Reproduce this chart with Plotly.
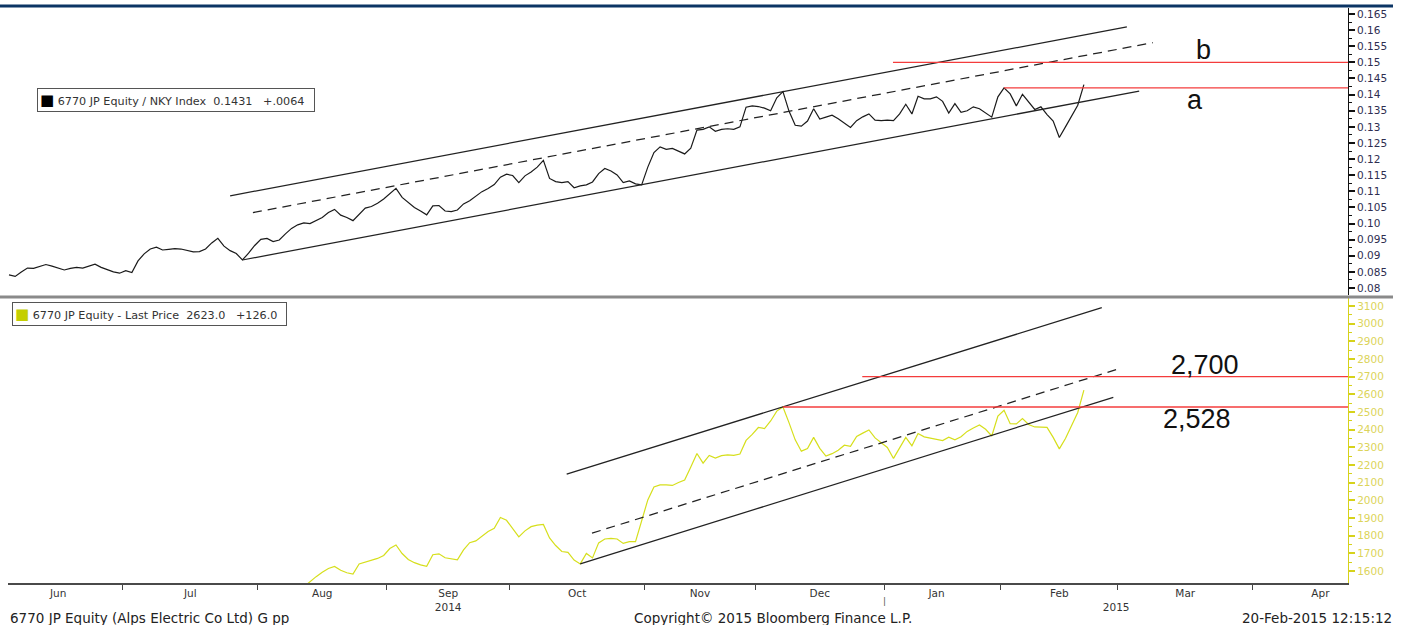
import plotly.graph_objects as go
import pandas as pd

# ---------------- data ----------------
HOLIDAYS = ["2014-07-21", "2014-09-15", "2014-09-23", "2014-10-13", "2014-11-03",
            "2014-11-24", "2014-12-23", "2014-12-31", "2015-01-01", "2015-01-02",
            "2015-01-12", "2015-02-11"]
FIRST_DAY = "2014-06-04"
LAST_DAY = "2015-02-20"

# 6770 JP Equity / NKY Index ratio, one value per trading day
ratio_values = [
    0.0841, 0.0836, 0.0850, 0.0862, 0.0861, 0.0868, 0.0873, 0.0868, 0.0861, 0.0856,
    0.0861, 0.0864, 0.0862, 0.0868, 0.0874, 0.0864, 0.0856, 0.0850, 0.0846, 0.0854,
    0.0848, 0.0884, 0.0906, 0.0921, 0.0927, 0.0918, 0.0920, 0.0922, 0.0921, 0.0916,
    0.0912, 0.0913, 0.0921, 0.0940, 0.0954, 0.0930, 0.0916, 0.0907, 0.0887, 0.0908,
    0.0932, 0.0951, 0.0954, 0.0944, 0.0949, 0.0968, 0.0985, 0.0996, 0.1002, 0.1000,
    0.1009, 0.1019, 0.1034, 0.1044, 0.1026, 0.1019, 0.1009, 0.1030, 0.1048, 0.1053,
    0.1063, 0.1076, 0.1094, 0.1109, 0.1081, 0.1064, 0.1050, 0.1039, 0.1027, 0.1055,
    0.1056, 0.1039, 0.1037, 0.1042, 0.1061, 0.1071, 0.1084, 0.1099, 0.1109, 0.1121,
    0.1144, 0.1153, 0.1149, 0.1127, 0.1148, 0.1160, 0.1175, 0.1196, 0.1140, 0.1130,
    0.1127, 0.1130, 0.1111, 0.1117, 0.1120, 0.1129, 0.1155, 0.1171, 0.1163, 0.1151,
    0.1127, 0.1132, 0.1123, 0.1120, 0.1175, 0.1220, 0.1238, 0.1230, 0.1233, 0.1224,
    0.1216, 0.1234, 0.1290, 0.1292, 0.1300, 0.1286, 0.1292, 0.1294, 0.1292, 0.1300,
    0.1361, 0.1365, 0.1363, 0.1358, 0.1350, 0.1390, 0.1409, 0.1348, 0.1305, 0.1302,
    0.1318, 0.1356, 0.1324, 0.1330, 0.1336, 0.1325, 0.1311, 0.1298, 0.1319, 0.1331,
    0.1340, 0.1321, 0.1319, 0.1321, 0.1319, 0.1340, 0.1370, 0.1340, 0.1395, 0.1387,
    0.1387, 0.1393, 0.1379, 0.1343, 0.1372, 0.1345, 0.1350, 0.1362, 0.1356, 0.1342,
    0.1330, 0.1393, 0.1421, 0.1402, 0.1365, 0.1401, 0.1377, 0.1354, 0.1362, 0.1338,
    0.1318, 0.1267, 0.1300, 0.1335, 0.1367, 0.1431,
]

# 6770 JP Equity last price, starting at trading day index PRICE_START
PRICE_START = 48
price_values = [
    1510, 1540, 1568, 1593, 1614, 1626, 1604, 1590, 1582, 1640,
    1651, 1660, 1671, 1688, 1727, 1747, 1699, 1665, 1647, 1635,
    1626, 1692, 1697, 1675, 1667, 1663, 1719, 1760, 1770, 1797,
    1824, 1841, 1903, 1887, 1838, 1793, 1827, 1851, 1859, 1863,
    1787, 1744, 1710, 1705, 1662, 1640, 1699, 1674, 1759, 1781,
    1785, 1781, 1756, 1766, 1766, 1877, 2002, 2076, 2087, 2087,
    2084, 2101, 2115, 2189, 2265, 2210, 2254, 2239, 2253, 2257,
    2254, 2262, 2339, 2373, 2412, 2406, 2449, 2505, 2528, 2438,
    2342, 2278, 2293, 2356, 2294, 2250, 2264, 2283, 2312, 2305,
    2361, 2380, 2398, 2353, 2325, 2299, 2237, 2294, 2356, 2308,
    2378, 2359, 2353, 2346, 2338, 2357, 2342, 2360, 2390, 2409,
    2426, 2402, 2364, 2477, 2509, 2433, 2432, 2462, 2429, 2415,
    2413, 2413, 2356, 2291, 2350, 2425, 2497, 2623,
]

# trend channel lines (start, end)
top_upper_x = ["2014-07-25", "2015-03-03"]
top_upper_y = [0.1086, 0.1610]
top_lower_x = ["2014-07-29", "2015-03-05"]
top_lower_y = [0.0887, 0.1411]
top_mid_x = ["2014-07-30 17:00", "2015-03-09 05:00"]
top_mid_y = [0.1034, 0.1561]

bot_upper_x = ["2014-10-14 19:00", "2015-02-24 22:00"]
bot_upper_y = [2148, 3090]
bot_lower_x = ["2014-10-17", "2015-02-26 19:00"]
bot_lower_y = [1640, 2583]
bot_mid_x = ["2014-10-20 22:00", "2015-02-27 22:00"]
bot_mid_y = [1814, 2747]

# horizontal levels
level_b, level_b_start = 0.15, "2015-01-05 22:00"
level_a, level_a_start = 0.1421, "2015-02-02"
level_2700, level_2700_start = 2700, "2014-12-24 22:00"
level_2528, level_2528_start = 2528, "2014-12-05"

# axis labels
TOP_TICKS = [0.08, 0.085, 0.09, 0.095, 0.10, 0.105, 0.11, 0.115, 0.12, 0.125,
             0.13, 0.135, 0.14, 0.145, 0.15, 0.155, 0.16, 0.165]
TOP_TICKTEXT = ["0.08", "0.085", "0.09", "0.095", "0.10", "0.105", "0.11", "0.115",
                "0.12", "0.125", "0.13", "0.135", "0.14", "0.145", "0.15", "0.155",
                "0.16", "0.165"]
BOT_TICKS = [1600, 1700, 1800, 1900, 2000, 2100, 2200, 2300, 2400, 2500, 2600,
             2700, 2800, 2900, 3000, 3100]
BOT_TICKTEXT = [str(v) for v in BOT_TICKS]

MONTH_BOUNDS = ["2014-06-30 12:00", "2014-07-31 12:00", "2014-08-29 12:00",
                "2014-09-30 12:00", "2014-10-31 12:00", "2014-11-28 12:00",
                "2014-12-30 12:00", "2015-01-30 12:00", "2015-02-27 12:00",
                "2015-03-31 12:00"]
MONTH_MID = ["2014-06-16", "2014-07-15 12:00", "2014-08-15", "2014-09-12 12:00",
             "2014-10-16 12:00", "2014-11-14 12:00", "2014-12-15", "2015-01-16",
             "2015-02-16", "2015-03-16 12:00", "2015-04-15 12:00"]
MONTH_LABELS = ["Jun", "Jul", "Aug", "Sep<br>2014", "Oct", "Nov", "Dec", "Jan", "Feb",
                "Mar", "Apr"]
YEAR2_MID = "2015-02-27 06:00"
YEAR2_LABEL = "<br>2015"
YEAR_BREAK = "2014-12-30 12:00"

X_RANGE = ["2014-06-03 20:00", "2015-04-22"]
TOP_RANGE = [0.07784, 0.16686]
BOT_RANGE = [1532, 3145]

# ---------------- figure ----------------
dates = pd.bdate_range(FIRST_DAY, LAST_DAY, freq="C", holidays=HOLIDAYS)
price_dates = dates[PRICE_START:PRICE_START + len(price_values)]

BLACK = "#1a1a1a"
YELLOW = "#d6df1c"
RED = "#f43c3c"
FONT = "DejaVu Sans"
DASH = "9px,6px"

fig = go.Figure()
# top panel
fig.add_trace(go.Scatter(x=dates, y=ratio_values, mode="lines",
                         line=dict(color=BLACK, width=1.2), xaxis="x2", yaxis="y"))
for xs, ys, dash in [(top_upper_x, top_upper_y, "solid"), (top_lower_x, top_lower_y, "solid"),
                     (top_mid_x, top_mid_y, DASH)]:
    fig.add_trace(go.Scatter(x=xs, y=ys, mode="lines",
                             line=dict(color="#222222", width=1.25, dash=dash),
                             xaxis="x2", yaxis="y"))
for lvl, st in [(level_b, level_b_start), (level_a, level_a_start)]:
    fig.add_trace(go.Scatter(x=[st, X_RANGE[1]], y=[lvl, lvl], mode="lines",
                             line=dict(color=RED, width=1.3), xaxis="x2", yaxis="y"))
# bottom panel
fig.add_trace(go.Scatter(x=price_dates, y=price_values, mode="lines",
                         line=dict(color=YELLOW, width=1.2), xaxis="x", yaxis="y2"))
for xs, ys, dash in [(bot_upper_x, bot_upper_y, "solid"), (bot_lower_x, bot_lower_y, "solid"),
                     (bot_mid_x, bot_mid_y, DASH)]:
    fig.add_trace(go.Scatter(x=xs, y=ys, mode="lines",
                             line=dict(color="#222222", width=1.25, dash=dash),
                             xaxis="x", yaxis="y2"))
for lvl, st in [(level_2700, level_2700_start), (level_2528, level_2528_start)]:
    fig.add_trace(go.Scatter(x=[st, X_RANGE[1]], y=[lvl, lvl], mode="lines",
                             line=dict(color=RED, width=1.3), xaxis="x", yaxis="y2"))

rangebreaks = [dict(bounds=["sat", "mon"]), dict(values=HOLIDAYS)]
top_minor = [t + 0.0025 for t in TOP_TICKS[:-1]]
bot_minor = [t + 50 for t in BOT_TICKS[:-1]]

fig.update_layout(
    width=1408, height=625,
    margin=dict(l=8, r=60, t=8, b=42),
    paper_bgcolor="white", plot_bgcolor="white",
    showlegend=False,
    font=dict(family=FONT, size=10, color="#333333"),
    xaxis=dict(type="date", domain=[0, 1], anchor="y2", range=X_RANGE,
               rangebreaks=rangebreaks, tickmode="array",
               tickvals=MONTH_MID + [YEAR2_MID], ticktext=MONTH_LABELS + [YEAR2_LABEL],
               tickangle=0, ticks="", showticklabels=True,
               minor=dict(tickmode="array", tickvals=MONTH_BOUNDS, ticks="outside",
                          ticklen=5, tickwidth=1, tickcolor="#444444", showgrid=False),
               tickfont=dict(family=FONT, size=10.5, color="#333333"),
               showline=True, linecolor="#4a4a4a", linewidth=1.5,
               showgrid=False, zeroline=False),
    xaxis2=dict(type="date", matches="x", anchor="y", visible=False,
                rangebreaks=rangebreaks, range=X_RANGE, showgrid=False),
    yaxis=dict(domain=[0.50087, 1], anchor="x2", side="right", range=TOP_RANGE,
               tickmode="array", tickvals=TOP_TICKS, ticktext=TOP_TICKTEXT,
               ticks="outside", ticklen=6, tickwidth=2, tickcolor="#111111",
               showline=True, linecolor="#111111", linewidth=1,
               minor=dict(tickmode="array", tickvals=top_minor, ticks="outside",
                          ticklen=3, tickwidth=1, tickcolor="#111111"),
               showgrid=False, zeroline=False,
               tickfont=dict(family=FONT, size=10.5, color="#2e2e50")),
    yaxis2=dict(domain=[0, 0.4957], anchor="x", side="right", range=BOT_RANGE,
                tickmode="array", tickvals=BOT_TICKS, ticktext=BOT_TICKTEXT,
                ticks="outside", ticklen=6, tickwidth=2, tickcolor="#d6d21a",
                showline=True, linecolor="#d6d21a", linewidth=1.2,
                minor=dict(tickmode="array", tickvals=bot_minor, ticks="outside",
                           ticklen=3, tickwidth=1, tickcolor="#d6d21a"),
                showgrid=False, zeroline=False,
                tickfont=dict(family=FONT, size=10.5, color="#dcd45a")),
)

def px(x):
    return (x - 8) / 1340

def py(y):
    return (583 - y) / 575

shapes = [
    dict(type="line", xref="paper", yref="paper", x0=px(0), x1=px(1393),
         y0=py(6), y1=py(6), line=dict(color="#0b3564", width=3)),
    dict(type="line", xref="paper", yref="paper", x0=px(0), x1=px(1393),
         y0=py(297), y1=py(297), line=dict(color="#8a8a8a", width=3)),
]
fig.update_layout(shapes=shapes)

NB = "\u00a0"
BIG = dict(family="Liberation Sans", size=27, color="#111111")
LEG_FONT = dict(family=FONT, size=11.2, color="#333333")
annotations = [
    dict(text="<span style='color:#000000;font-size:15px'>■</span> 6770 JP Equity / NKY Index"
              + NB * 2 + "0.1431" + NB * 3 + "+.0064",
         xref="paper", yref="paper", x=px(37), y=py(100), xanchor="left", yanchor="middle",
         showarrow=False, align="left", width=272, height=18, borderpad=2,
         bordercolor="#555555", borderwidth=1, bgcolor="white", font=LEG_FONT),
    dict(text="<span style='color:#c4cf00;font-size:15px'>■</span> 6770 JP Equity - Last Price"
              + NB * 2 + "2623.0" + NB * 3 + "+126.0",
         xref="paper", yref="paper", x=px(12), y=py(314.5), xanchor="left", yanchor="middle",
         showarrow=False, align="left", width=269, height=18, borderpad=2,
         bordercolor="#555555", borderwidth=1, bgcolor="white", font=LEG_FONT),
    dict(text="b", xref="paper", yref="paper", x=px(1203), y=py(50), showarrow=False,
         xanchor="center", yanchor="middle", font=BIG),
    dict(text="a", xref="paper", yref="paper", x=px(1195), y=py(100), showarrow=False,
         xanchor="center", yanchor="middle", font=BIG),
    dict(text="2,700", xref="paper", yref="paper", x=px(1205), y=py(365), showarrow=False,
         xanchor="center", yanchor="middle", font=BIG),
    dict(text="2,528", xref="paper", yref="paper", x=px(1197), y=py(419), showarrow=False,
         xanchor="center", yanchor="middle", font=BIG),
    dict(text="|", xref="x", yref="paper", x=YEAR_BREAK, y=py(601), showarrow=False,
         xanchor="center", yanchor="middle",
         font=dict(family=FONT, size=9, color="#555555")),
    dict(text="6770 JP Equity (Alps Electric Co Ltd) G pp", xref="paper", yref="paper",
         x=px(8), y=py(618), xanchor="left", yanchor="middle", showarrow=False,
         font=dict(family=FONT, size=13.5, color="#222222")),
    dict(text="Copyright© 2015 Bloomberg Finance L.P.", xref="paper", yref="paper",
         x=px(773), y=py(618), xanchor="center", yanchor="middle", showarrow=False,
         font=dict(family=FONT, size=13.5, color="#222222")),
    dict(text="20-Feb-2015 12:15:12", xref="paper", yref="paper",
         x=px(1394), y=py(618), xanchor="right", yanchor="middle", showarrow=False,
         font=dict(family=FONT, size=13.5, color="#222222")),
]
fig.update_layout(annotations=annotations)

fig.write_html("out.html", config={"displayModeBar": False},
               post_script="document.body.style.margin='0';document.body.style.overflow='hidden';")
